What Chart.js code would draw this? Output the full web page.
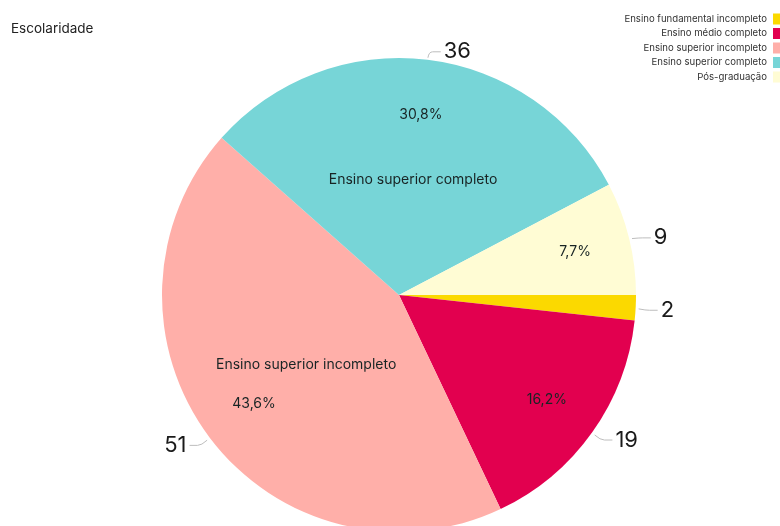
<!DOCTYPE html>
<html>
<head>
<meta charset="utf-8">
<script src="https://cdn.jsdelivr.net/npm/chart.js@4.4.1/dist/chart.umd.min.js"></script>
<style>
  html, body { margin: 0; padding: 0; background: #fff; }
  #wrap { width: 780px; height: 526px; overflow: hidden; position: relative; }
  canvas { display: block; }
</style>
</head>
<body>
<div id="wrap"><canvas id="pie_chart" width="780" height="560"></canvas></div>
<script>
var chartTitle = "Escolaridade";
var categories = [
    "Ensino fundamental incompleto",
    "Ensino médio completo",
    "Ensino superior incompleto",
    "Ensino superior completo",
    "Pós-graduação"
];
var counts = [2, 19, 51, 36, 9];
var colors = ["#fbd900", "#e2004f", "#ffafa9", "#77d5d7", "#fffcd4"];

var FONT = "Inter, 'Noto Sans', sans-serif";

function pct(v, total) {
    return (v / total * 100).toFixed(1).replace(".", ",") + "%";
}

// title, legend and slice labels
var labelsPlugin = {
    id: 'pieLabels',
    afterDatasetsDraw: function (chart) {
        var ctx = chart.ctx;
        var arcs = chart.getDatasetMeta(0).data;
        var total = counts.reduce(function (a, b) { return a + b; }, 0);

        ctx.save();
        ctx.textBaseline = 'middle';

        arcs.forEach(function (arc, i) {
            var p = arc.getProps(['x', 'y', 'startAngle', 'endAngle', 'outerRadius'], true);
            var mid = (p.startAngle + p.endAngle) / 2;
            var cos = Math.cos(mid), sin = Math.sin(mid);
            var R = p.outerRadius;
            var share = counts[i] / total;

            // percentage and name inside the slice
            ctx.fillStyle = '#182424';
            ctx.textAlign = 'center';
            ctx.font = '14px ' + FONT;
            if (share > 0.05) {
                ctx.fillText(pct(counts[i], total), p.x + cos * R * 0.765, p.y + sin * R * 0.765);
            }
            if (share > 0.25) {
                ctx.fillText(categories[i], p.x + cos * R * 0.49, p.y + sin * R * 0.49);
            }

            // value outside with a leader line
            var x0 = p.x + cos * (R + 3), y0 = p.y + sin * (R + 3) + 1;
            var x1 = p.x + cos * (R + 10), y1 = p.y + sin * (R + 10) + 2;
            var dir = cos >= 0 ? 1 : -1;
            var x2 = x1 + dir * 12;
            ctx.strokeStyle = '#bdbdbd';
            ctx.lineWidth = 1;
            ctx.beginPath();
            ctx.moveTo(x0, y0);
            ctx.quadraticCurveTo(x1, y1, x1 + dir * 4, y1);
            ctx.lineTo(x2, y1);
            ctx.stroke();

            ctx.fillStyle = '#1a1a1a';
            ctx.font = '22px ' + FONT;
            ctx.textAlign = dir > 0 ? 'left' : 'right';
            ctx.fillText(String(counts[i]), x2 + dir * 3, y1);
        });

        // title
        ctx.fillStyle = '#222';
        ctx.textAlign = 'left';
        ctx.font = '13.5px ' + FONT;
        ctx.fillText(chartTitle, 11, 29);

        // legend, right aligned with swatches on the right
        ctx.font = '9.6px ' + FONT;
        categories.forEach(function (name, i) {
            var y = 19 + i * 14.5;
            ctx.fillStyle = '#333';
            ctx.textAlign = 'right';
            ctx.fillText(name, 767, y);
            ctx.fillStyle = colors[i];
            ctx.fillRect(773, y - 5.5, 8, 11);
        });

        ctx.restore();
    }
};

new Chart(document.getElementById("pie_chart").getContext("2d"), {
    type: 'pie',
    data: {
        labels: categories,
        datasets: [{
            data: counts,
            backgroundColor: colors,
            borderWidth: 0,
            hoverOffset: 0
        }]
    },
    options: {
        responsive: false,
        animation: false,
        events: [],
        rotation: 90,
        layout: {
            padding: { top: 58, bottom: 28, left: 162, right: 144 }
        },
        plugins: {
            legend: { display: false },
            title: { display: false },
            tooltip: { enabled: false }
        }
    },
    plugins: [labelsPlugin]
});
</script>
</body>
</html>
